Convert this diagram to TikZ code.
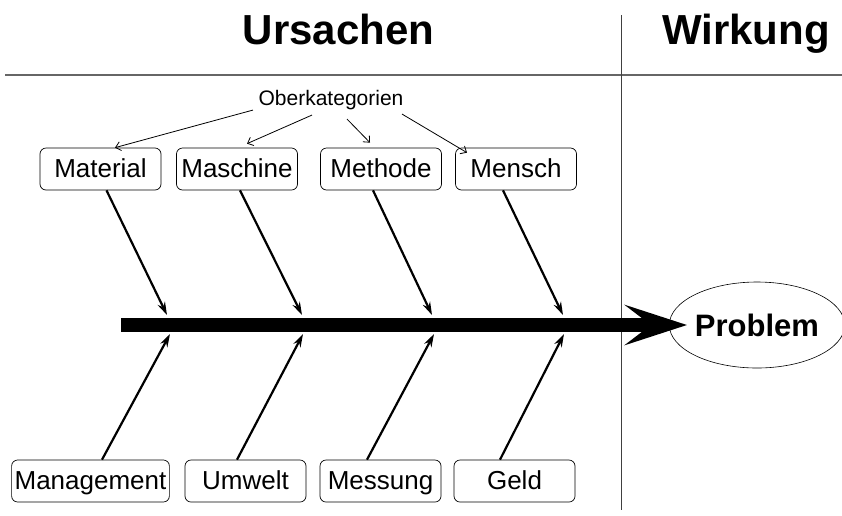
\documentclass[tikz,border=0pt]{standalone}
\usepackage{fontspec}
\setmainfont{Liberation Sans}
\usetikzlibrary{arrows.meta,shapes.geometric}

\begin{document}
\begin{tikzpicture}[x=1pt,y=-1pt]
\tikzstyle{every node}+=[inner sep=0pt]
\tikzstyle{kat}=[draw,rounded corners=6pt,minimum width=121pt,minimum height=42pt,inner sep=3pt,line width=0.7pt,text height=20pt,text depth=3pt,font=\fontsize{26}{30}\selectfont]
\tikzstyle{gruppe}=[line width=2.2pt,-{Stealth[length=13pt,width=8pt]}]
\tikzstyle{hinweis}=[line width=0.8pt,-{Straight Barb[length=5pt,width=9pt]}]
\tikzstyle{titel}=[anchor=base,font=\fontsize{42}{48}\selectfont\bfseries]
\useasboundingbox (0,0) rectangle (842,515);
% Kopfzeile
\node[titel] (ursachen) at (338.5,44) {Ursachen};
\node[titel] (wirkung) at (746,44) {Wirkung};
\draw [black!60,line width=1.6pt] (5,75) -- (842,75);
\draw [black!75,line width=0.9pt] (621,15) -- (621,510);
% Hauptgraete
\node[draw,ellipse,line width=0.6pt,minimum width=166pt,minimum height=86pt,font=\fontsize{31}{36}\selectfont\bfseries] (prob) at (757,325) {Problem};
\coordinate (schwanz) at (121,325);
\draw [line width=14pt,-{Stealth[length=62pt,width=40pt,inset=26pt]},shorten >=-18pt] (schwanz) -- (prob.west);
% Kategorien oben
\node[kat] (material) at (100.5,169) {Material};
\node[kat] (maschine) at (237,169) {Maschine};
\node[kat] (methode) at (381,169) {Methode};
\node[kat] (mensch) at (516,169) {Mensch};
% Kategorien unten
\node[kat] (management) at (90.5,481) {Management};
\node[kat] (umwelt) at (245.5,481) {Umwelt};
\node[kat] (messung) at (380.5,481) {Messung};
\node[kat] (geld) at (514.5,481) {Geld};
% Enden an der Graete
\coordinate (o1) at (167,315);
\coordinate (o2) at (302,315);
\coordinate (o3) at (432,315);
\coordinate (o4) at (563,315);
\coordinate (u1) at (170,334);
\coordinate (u2) at (303,334);
\coordinate (u3) at (434,334);
\coordinate (u4) at (564,334);
\draw [gruppe] ([xshift=6pt]material.south) -- (o1);
\draw [gruppe] ([xshift=3pt]maschine.south) -- (o2);
\draw [gruppe] ([xshift=-8pt]methode.south) -- (o3);
\draw [gruppe] ([xshift=-13pt]mensch.south) -- (o4);
\draw [gruppe] ([xshift=11.5pt]management.north) -- (u1);
\draw [gruppe] ([xshift=-8.5pt]umwelt.north) -- (u2);
\draw [gruppe] ([xshift=-13.5pt]messung.north) -- (u3);
\draw [gruppe] ([xshift=-14.5pt]geld.north) -- (u4);
% Oberkategorien
\node[anchor=base,font=\fontsize{21}{25}\selectfont] (ober) at (331,105.5) {Oberkategorien};
\draw [hinweis] ([xshift=-78pt]ober.south) -- ([xshift=14.5pt]material.north);
\draw [hinweis] ([xshift=-19pt,yshift=-5pt]ober.south) -- ([xshift=10pt,yshift=4pt]maschine.north);
\draw [hinweis] ([xshift=16pt,yshift=-9pt]ober.south) -- ([xshift=-11pt,yshift=5pt]methode.north);
\draw [hinweis] ([xshift=71pt,yshift=-4pt]ober.south) -- ([xshift=-49pt,yshift=-5pt]mensch.north);
\end{tikzpicture}
\end{document}
